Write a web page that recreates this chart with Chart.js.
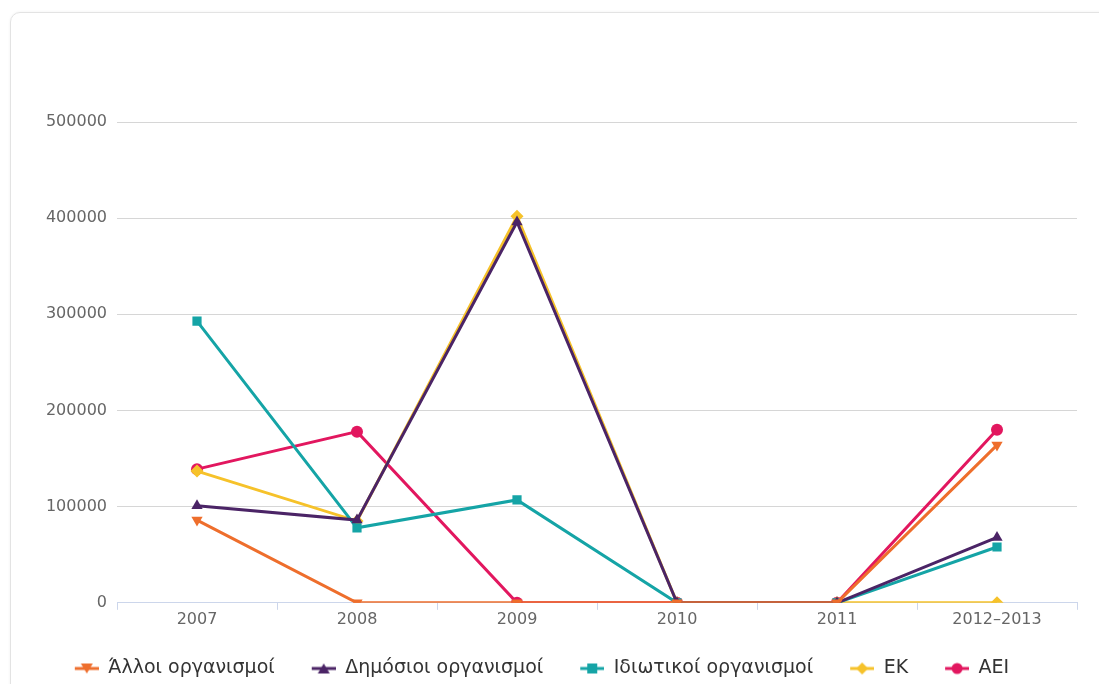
<!DOCTYPE html>
<html>
<head>
<meta charset="utf-8">
<script src="https://cdn.jsdelivr.net/npm/chart.js@4.4.1/dist/chart.umd.min.js"></script>
<style>
  html, body { margin: 0; padding: 0; background: #fff; overflow: hidden; }
  #card {
    position: absolute; left: 10px; top: 12px; width: 1130px; height: 740px;
    border: 1px solid #e3e3e3; border-radius: 10px;
    box-shadow: 0 0 3px rgba(0,0,0,0.06);
  }
  #wrap { position: absolute; left: 0; top: 0; width: 1099px; height: 688px; }
</style>
</head>
<body>
<div id="card"></div>
<div id="wrap"><canvas id="myChart"></canvas></div>
<script>
var years = ['2007', '2008', '2009', '2010', '2011', '2012–2013'];
var seriesNames = ['Άλλοι οργανισμοί', 'Δημόσιοι οργανισμοί', 'Ιδιωτικοί οργανισμοί', 'ΕΚ', 'ΑΕΙ'];
var allo = [86000, 0, 0, 0, 0, 164000];
var dimosioi = [101000, 86000, 396000, 0, 0, 68000];
var idiotikoi = [293000, 78000, 107000, 0, 0, 58000];
var ek = [137000, 85000, 402000, 0, 0, 0];
var aei = [139000, 178000, 0, 0, 0, 180000];
var yTicks = [0, 100000, 200000, 300000, 400000, 500000];

var colors = ['#ee6e2c', '#4b2466', '#15a4a6', '#f6c22a', '#e2175f'];
var markers = ['triangle', 'triangle', 'rect', 'rectRot', 'circle'];
var rotations = [180, 0, 0, 0, 0];
var values = [allo, dimosioi, idiotikoi, ek, aei];

// line+marker icon for the legend (blank strip on the left adds spacing between items)
function legendIcon(color, marker, rot) {
    var c = document.createElement('canvas');
    c.width = 31; c.height = 14;
    var g = c.getContext('2d');
    g.translate(7, 0);
    g.strokeStyle = color;
    g.fillStyle = color;
    g.lineWidth = 3;
    g.beginPath();
    g.moveTo(0, 7);
    g.lineTo(24, 7);
    g.stroke();
    g.beginPath();
    if (marker == 'circle') {
        g.arc(12, 7, 5.5, 0, Math.PI * 2);
    } else if (marker == 'rect') {
        g.rect(7, 2, 10, 10);
    } else if (marker == 'rectRot') {
        g.moveTo(12, 1); g.lineTo(18, 7); g.lineTo(12, 13); g.lineTo(6, 7);
    } else if (rot == 180) {
        g.moveTo(6, 2); g.lineTo(18, 2); g.lineTo(12, 12);
    } else {
        g.moveTo(6, 12); g.lineTo(18, 12); g.lineTo(12, 2);
    }
    g.closePath();
    g.fill();
    return c;
}

var datasets = [];
for (var i = 0; i < seriesNames.length; i++) {
    datasets.push({
        label: seriesNames[i],
        data: values[i],
        borderColor: colors[i],
        backgroundColor: colors[i],
        borderWidth: 3,
        pointStyle: markers[i],
        pointRotation: rotations[i],
        pointRadius: markers[i] == 'circle' ? 6 : 6.5,
        pointBorderWidth: 0,
        tension: 0
    });
}

var ctx = document.getElementById('myChart');
new Chart(ctx, {
    type: 'line',
    data: { labels: years, datasets: datasets },
    options: {
        responsive: true,
        maintainAspectRatio: false,
        animation: false,
        layout: { padding: { top: 122, right: 22, left: 0, bottom: 0 } },
        plugins: {
            tooltip: { enabled: false },
            legend: {
                position: 'bottom',
                labels: {
                    usePointStyle: true,
                    pointStyleWidth: 31,
                    padding: 30,
                    color: '#333',
                    font: { family: 'DejaVu Sans', size: 19 },
                    generateLabels: function (chart) {
                        return chart.data.datasets.map(function (ds, i) {
                            return {
                                text: ds.label,
                                pointStyle: legendIcon(colors[i], markers[i], rotations[i]),
                                fillStyle: colors[i],
                                strokeStyle: colors[i],
                                lineWidth: 0,
                                fontColor: '#333',
                                datasetIndex: i
                            };
                        });
                    }
                }
            }
        },
        scales: {
            x: {
                offset: true,
                grid: { offset: true, drawOnChartArea: false, drawTicks: true, tickLength: 7, color: '#ccd6eb' },
                border: { display: true, color: '#ccd6eb', width: 1 },
                ticks: { color: '#666', padding: 0, font: { family: 'DejaVu Sans', size: 16 } }
            },
            y: {
                min: 0,
                max: 500000,
                afterBuildTicks: function (scale) {
                    scale.ticks = yTicks.map(function (v) { return { value: v }; });
                },
                afterFit: function (scale) { scale.width = 117; },
                grid: { color: '#d6d6d6', drawTicks: false, lineWidth: 1 },
                border: { display: false },
                ticks: {
                    color: '#666', padding: 10, font: { family: 'DejaVu Sans', size: 16 },
                    callback: function (v) { return String(v); }
                }
            }
        }
    }
});
</script>
</body>
</html>
